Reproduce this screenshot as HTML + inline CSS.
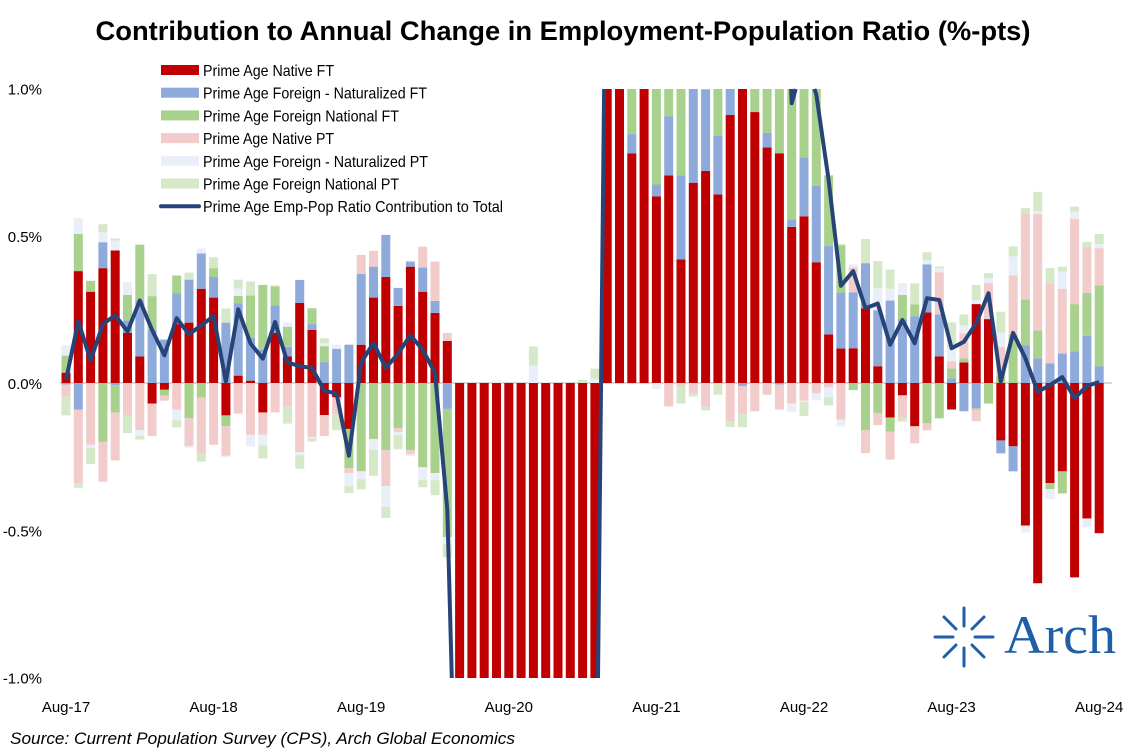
<!DOCTYPE html>
<html><head><meta charset="utf-8"><style>
html,body{margin:0;padding:0;background:#fff;overflow:hidden;width:1126px;height:750px;}
svg{display:block;}
text{font-family:"Liberation Sans",Arial,sans-serif;}
</style></head><body>
<svg id="chart" width="1126" height="750" viewBox="0 0 1126 750" xmlns="http://www.w3.org/2000/svg">
<text x="563" y="40" text-anchor="middle" font-size="27" font-weight="bold" textLength="935" lengthAdjust="spacingAndGlyphs">Contribution to Annual Change in Employment-Population Ratio (%-pts)</text>
<g id="yaxis"></g>
<g id="xaxis"></g>
<line x1="60" y1="383" x2="1112" y2="383" stroke="#d9d9d9" stroke-width="2"/>
<g id="bars"></g>
<g id="linegrp"></g>
<g id="legend"></g>
<text x="10" y="744" font-size="17" font-style="italic" textLength="505" lengthAdjust="spacingAndGlyphs">Source: Current Population Survey (CPS), Arch Global Economics</text>
<g>
<g stroke="#1f5fa8" stroke-width="3" stroke-linecap="round">
<line x1="964" y1="608" x2="964" y2="626"/><line x1="964" y1="648" x2="964" y2="666"/>
<line x1="935" y1="637" x2="953" y2="637"/><line x1="975" y1="637" x2="993" y2="637"/>
<line x1="944" y1="617" x2="956" y2="629"/><line x1="972" y1="645" x2="984" y2="657"/>
<line x1="984" y1="617" x2="972" y2="629"/><line x1="956" y1="645" x2="944" y2="657"/>
</g>
<text x="1004" y="653" font-size="54" fill="#1f5fa8" textLength="112" lengthAdjust="spacingAndGlyphs" style="font-family:'Liberation Serif',serif">Arch</text>
</g>
</svg>
<script>
const categoriesStart = "Aug-17";
const xTickLabels = ["Aug-17","Aug-18","Aug-19","Aug-20","Aug-21","Aug-22","Aug-23","Aug-24"];
const yTickValues = [1.0,0.5,0.0,-0.5,-1.0];
const yTickLabels = ["1.0%","0.5%","0.0%","-0.5%","-1.0%"];
const seriesNames = ["Prime Age Native FT","Prime Age Foreign - Naturalized FT","Prime Age Foreign National FT","Prime Age Native PT","Prime Age Foreign - Naturalized PT","Prime Age Foreign National PT"];
const lineName = "Prime Age Emp-Pop Ratio Contribution to Total";
const nativeFT = [0.035,0.38,0.31,0.39,0.45,0.17,0.09,-0.07,-0.023,0.2,0.205,0.32,0.29,-0.11,0.025,0.008,-0.1,0.17,0.09,0.272,0.18,-0.109,-0.048,-0.156,0.13,0.29,0.36,0.262,0.395,0.31,0.238,0.143,
-2.5,-2.5,-2.5,-2.5,-2.5,-2.5,-2.5,-2.5,-2.5,-2.5,-2.5,-2.5,
1.8,1.6,0.78,1.3,0.634,0.705,0.42,0.68,0.72,0.64,0.91,1.1,0.92,0.80,0.78,0.53,0.566,0.41,0.165,0.117,0.118,0.254,0.057,-0.117,-0.042,-0.147,0.24,0.09,-0.09,0.07,0.268,0.217,-0.195,-0.215,-0.484,-0.68,-0.34,-0.3,-0.66,-0.46,-0.51];
const natFT = [-0.005,-0.09,0,0.088,-0.007,0.042,0.19,0.18,0.147,0.105,0.146,0.12,0.07,0.205,0.245,0.146,0.113,0.093,0.033,0.078,0.02,0.071,0.116,0.13,0.24,0.105,0.143,0.061,0.017,0.082,0.041,-0.088,
0,0,0,0,0,0,0,0,0,0,0,0,
0,0,0.065,0,0.04,0.2,0.285,0.5,0.275,0.2,0.3,-0.01,0,0.05,-0.005,0.025,0.2,0.26,0.3,0.19,0.19,0.153,0.19,0.28,0.217,0.227,0.163,0.143,0.016,-0.096,-0.086,0,-0.044,-0.085,0.128,0.084,0.067,0.1,0.108,0.16,0.057];
const fnFT = [0.058,0.126,0.037,-0.2,-0.093,0.087,0.19,0.115,-0.02,0.06,-0.12,-0.05,0.03,-0.037,0.026,0.143,0.22,0.065,0.068,0,0.054,0.054,-0.003,-0.133,-0.30,-0.19,-0.228,-0.153,-0.228,-0.286,-0.306,-0.435,
0,0,0,0,0,0,0,0,0,0,0,0,
0.3,0.3,0.4,0.3,0.5,0.3,0.5,0.2,0.2,0.4,0.1,0.3,0.3,0.3,0.4,0.6,0.4,0.5,0.24,0.16,-0.024,-0.16,-0.103,-0.048,0.082,0.04,-0.137,-0.12,0.034,0.014,-0.004,-0.07,0.023,0.165,0.156,0.095,-0.02,-0.075,0.16,0.146,0.275];
const nativePT = [-0.04,-0.25,-0.21,-0.135,-0.163,-0.11,-0.16,-0.11,-0.017,-0.09,-0.095,-0.19,-0.21,-0.1,-0.104,-0.176,-0.075,-0.1,-0.08,-0.235,-0.184,-0.071,-0.055,-0.017,0.065,0.054,-0.122,-0.014,-0.014,0.071,0.133,0.027,
0,0,0,0,0,0,0,0,0,0,0,0,
0,0,0,0,0,-0.08,-0.01,-0.036,-0.08,0,-0.13,-0.095,-0.096,-0.04,-0.085,-0.07,-0.06,-0.035,-0.015,-0.124,0.085,-0.078,-0.04,-0.095,-0.075,-0.058,-0.024,0.143,0.024,0.085,-0.04,0.122,0.1,0.2,0.29,0.395,0.272,0.22,0.29,0.156,0.126];
const natPT = [0.035,0.054,-0.01,0.034,0.034,0.044,-0.02,0,0,-0.037,-0.005,0.017,0,-0.005,0.025,-0.04,-0.037,0,0.014,-0.01,-0.005,0.01,0.014,-0.044,-0.027,-0.037,-0.071,-0.01,-0.006,-0.044,-0.024,-0.024,
0,0,0,0.008,0,0,0.059,0.004,0,0,0,0.015,
0,0,0,0,-0.02,0,0,0,0,0,0,0,0,0,0,-0.027,-0.005,-0.024,-0.034,-0.024,0.01,0,0.075,0.04,0.04,0,0.014,0.014,0.044,0.027,0.014,0.017,0.048,0.065,-0.024,0.01,-0.034,0.058,0.024,-0.03,0.014];
const fnPT = [-0.065,-0.016,-0.055,0.027,0.007,-0.06,-0.012,0.075,0.003,-0.024,0.024,-0.027,0.037,0.048,0.03,0.048,-0.044,0.003,-0.058,-0.046,-0.01,0.017,-0.054,-0.024,-0.034,-0.088,-0.037,-0.048,0.003,-0.024,-0.051,-0.044,
0,0,0,0,0,0,0.065,0,0,0,0.011,0.034,
0,0,0,0,0,0,-0.06,-0.01,-0.013,-0.04,-0.02,-0.045,0,0,0,0,-0.047,0,-0.027,0.005,0,0.082,0.092,0.065,-0.014,0.071,0.027,0.006,0.088,0.037,0.051,0.017,0.071,0.034,0.02,0.065,0.051,0.017,0.017,0.017,0.034];
const totalLine = [0.01,0.21,0.077,0.20,0.23,0.175,0.28,0.18,0.094,0.22,0.165,0.196,0.227,0.005,0.25,0.134,0.083,0.207,0.07,0.057,0.051,-0.026,-0.036,-0.247,0.07,0.136,0.051,0.10,0.162,0.113,0.034,-0.43,
-2,-2,-2,-2,-2,-2,-2,-2,-2,-2,-2,-2,
2,2,2,2,2,2,2,2,2,2,2,2,2,2,2,0.95,1.1,0.98,0.69,0.33,0.38,0.254,0.27,0.13,0.214,0.135,0.288,0.282,0.118,0.14,0.203,0.305,0.005,0.17,0.084,-0.03,-0.007,0.02,-0.052,-0.01,0.003];

const seriesData = [nativeFT, natFT, fnFT, nativePT, natPT, fnPT];
const colors = ["#c00000","#8eaadb","#a9d18e","#f2cbcb","#e9eef8","#d5e8c8"];
const seriesKeys = ["native-ft","naturalized-ft","foreign-national-ft","native-pt","naturalized-pt","foreign-national-pt"];
const NS = "http://www.w3.org/2000/svg";
const X0 = 66, DX = 12.3, BW = 9;
const YTOP = 89, YBOT = 678;
function xPos(i){ return X0 + i*DX; }
function yPos(v){ return 383 - v*294.5; }
function clampY(y){ return Math.max(YTOP, Math.min(YBOT, y)); }

const yaxis = document.getElementById('yaxis');
yTickValues.forEach((v,k)=>{
  const t = document.createElementNS(NS,'text');
  
  
  t.setAttribute('x', 42); t.setAttribute('y', yPos(v)+6);
  t.setAttribute('text-anchor','end'); t.setAttribute('font-size','15');
  t.textContent = yTickLabels[k];
  yaxis.appendChild(t);
});
const xaxis = document.getElementById('xaxis');
xTickLabels.forEach((lab,k)=>{
  const t = document.createElementNS(NS,'text');
  
  
  t.setAttribute('x', xPos(k*12)); t.setAttribute('y', 712);
  t.setAttribute('text-anchor','middle'); t.setAttribute('font-size','15');
  t.textContent = lab;
  xaxis.appendChild(t);
});

const bars = document.getElementById('bars');
const n = nativeFT.length;
for(let i=0;i<n;i++){
  let pos=0, neg=0;
  seriesData.forEach((arr,s)=>{
    const v = arr[i]; if(!v) return;
    let y0,y1;
    if(v>0){ y0=pos; y1=pos+v; pos=y1; } else { y0=neg; y1=neg+v; neg=y1; }
    const ya=clampY(yPos(Math.max(y0,y1))), yb=clampY(yPos(Math.min(y0,y1)));
    if(yb-ya<=0) return;
    const r = document.createElementNS(NS,'rect');
    
    
    r.setAttribute('x', xPos(i)-BW/2); r.setAttribute('y', ya);
    r.setAttribute('width', BW); r.setAttribute('height', yb-ya);
    r.setAttribute('fill', colors[s]);
    bars.appendChild(r);
  });
}
// line, geometrically clipped to the plot's vertical range
const lg = document.getElementById('linegrp');
const pts = totalLine.map((v,i)=>[xPos(i), yPos(v)]);
const inside = p => p[1]>=YTOP && p[1]<=YBOT;
function cross(a,b,yb){ const t=(yb-a[1])/(b[1]-a[1]); return [a[0]+t*(b[0]-a[0]), yb]; }
const runs=[]; let cur=[];
for(let i=0;i<pts.length-1;i++){
  let a=pts[i], b=pts[i+1];
  let ya=a[1], yb=b[1];
  if((ya<YTOP&&yb<YTOP)||(ya>YBOT&&yb>YBOT)){ if(cur.length){runs.push(cur);cur=[];} continue; }
  let A=a, B=b;
  if(A[1]<YTOP) A=cross(a,b,YTOP); else if(A[1]>YBOT) A=cross(a,b,YBOT);
  if(B[1]<YTOP) B=cross(a,b,YTOP); else if(B[1]>YBOT) B=cross(a,b,YBOT);
  if(!cur.length) cur.push(A);
  cur.push(B);
  if(!inside(b)){ runs.push(cur); cur=[]; }
}
if(cur.length) runs.push(cur);
runs.forEach(run=>{
  const pl = document.createElementNS(NS,'polyline');
  
  
  pl.setAttribute('points', run.map(p=>p[0].toFixed(1)+','+p[1].toFixed(1)).join(' '));
  pl.setAttribute('fill','none'); pl.setAttribute('stroke','#264478');
  pl.setAttribute('stroke-width','4'); pl.setAttribute('stroke-linejoin','round');
  lg.appendChild(pl);
});

const legend = document.getElementById('legend');
const legendWidths = [131,224,196,131,225,196,300];
const allNames = seriesNames.concat([lineName]);
allNames.forEach((nm,k)=>{
  const y = 70 + k*22.7;
  const g = document.createElementNS(NS,'g');
  
  
  if(k<6){
    const r=document.createElementNS(NS,'rect');
    r.setAttribute('x',161); r.setAttribute('y',y-5); r.setAttribute('width',38); r.setAttribute('height',10);
    r.setAttribute('fill',colors[k]); g.appendChild(r);
  } else {
    const l=document.createElementNS(NS,'line');
    l.setAttribute('x1',161); l.setAttribute('x2',199); l.setAttribute('y1',y); l.setAttribute('y2',y);
    l.setAttribute('stroke','#264478'); l.setAttribute('stroke-width','4'); l.setAttribute('stroke-linecap','round');
    g.appendChild(l);
  }
  const t=document.createElementNS(NS,'text');
  t.setAttribute('x',203); t.setAttribute('y',y+6); t.setAttribute('font-size','16');
  t.setAttribute('textLength',legendWidths[k]); t.setAttribute('lengthAdjust','spacingAndGlyphs');
  t.textContent=nm; g.appendChild(t);
  legend.appendChild(g);
});
</script>
</body></html>
